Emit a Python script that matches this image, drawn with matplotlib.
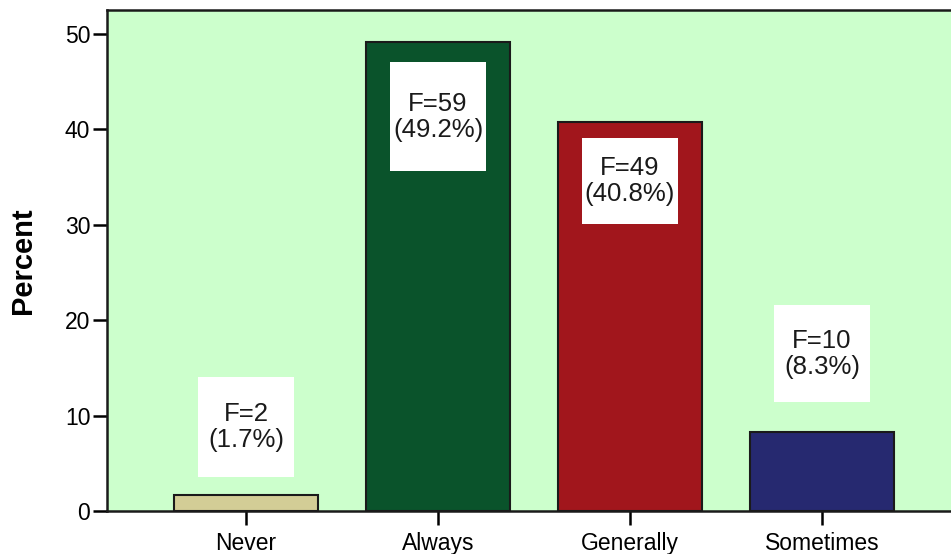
import matplotlib
matplotlib.use("Agg")
import matplotlib.pyplot as plt
import matplotlib.transforms as mtransforms
from matplotlib.patches import Rectangle

# Frequency distribution of responses
categories = ["Never", "Always", "Generally", "Sometimes"]
frequencies = [2, 59, 49, 10]
percents = [1.7, 49.2, 40.8, 8.3]
y_ticks = [0, 10, 20, 30, 40, 50]

bar_colors = ["#d3cd96", "#0a532b", "#a1161c", "#262970"]
plot_bg = "#ccffcc"

plt.rcParams["font.family"] = ["Liberation Sans", "DejaVu Sans"]

W, H, DPI = 951, 554, 100
fig = plt.figure(figsize=(W / DPI, H / DPI), dpi=DPI)
fig.patch.set_facecolor("white")

ax = fig.add_axes([107 / W, (H - 511) / H, (961 - 107) / W, (511 - 9.5) / H])
ax.set_facecolor(plot_bg)

x = list(range(len(categories)))
ax.bar(x, percents, width=0.755, color=bar_colors, edgecolor="#1a1a1a",
       linewidth=1.5, zorder=2)

ax.set_xlim(-0.724, len(categories) - 1 + 0.724)
ax.set_ylim(0, 52.57)
ax.set_yticks(y_ticks)
ax.set_xticks(x)
ax.set_xticklabels(categories, fontsize=16.5)
ax.tick_params(axis="y", direction="out", length=10, width=1.8, pad=2,
               labelsize=16.5, colors="black")
ax.tick_params(axis="x", direction="out", length=10, width=1.8, pad=5,
               labelsize=16.5, colors="black")
for side in ("left", "bottom", "top", "right"):
    ax.spines[side].set_linewidth(1.8)
    ax.spines[side].set_color("#1a1a1a")

ax.set_ylabel("Percent", fontsize=21, fontweight="bold", labelpad=20)

# Value labels in white boxes: inside tall bars, above short ones
box_w = 96                          # pixels
box_h = [100, 109, 86, 97]          # pixels
label_shift = [68, -75, -59, 78]    # pixels from bar top to box centre
for xi, f, p, dy, bh in zip(x, frequencies, percents, label_shift, box_h):
    anchor = mtransforms.ScaledTranslation(xi, p, ax.transData)
    trans = fig.dpi_scale_trans + anchor
    cy = dy / DPI
    ax.add_patch(Rectangle((-box_w / 2 / DPI, cy - bh / 2 / DPI),
                           box_w / DPI, bh / DPI, transform=trans,
                           facecolor="white", edgecolor="none", zorder=3,
                           clip_on=False))
    ax.text(0, cy, f"F={f}\n({p}%)", transform=trans, ha="center",
            va="center", fontsize=18.5, linespacing=1.1, color="#1a1a1a",
            zorder=4)

fig.savefig("out.png", dpi=DPI, facecolor=fig.get_facecolor())
